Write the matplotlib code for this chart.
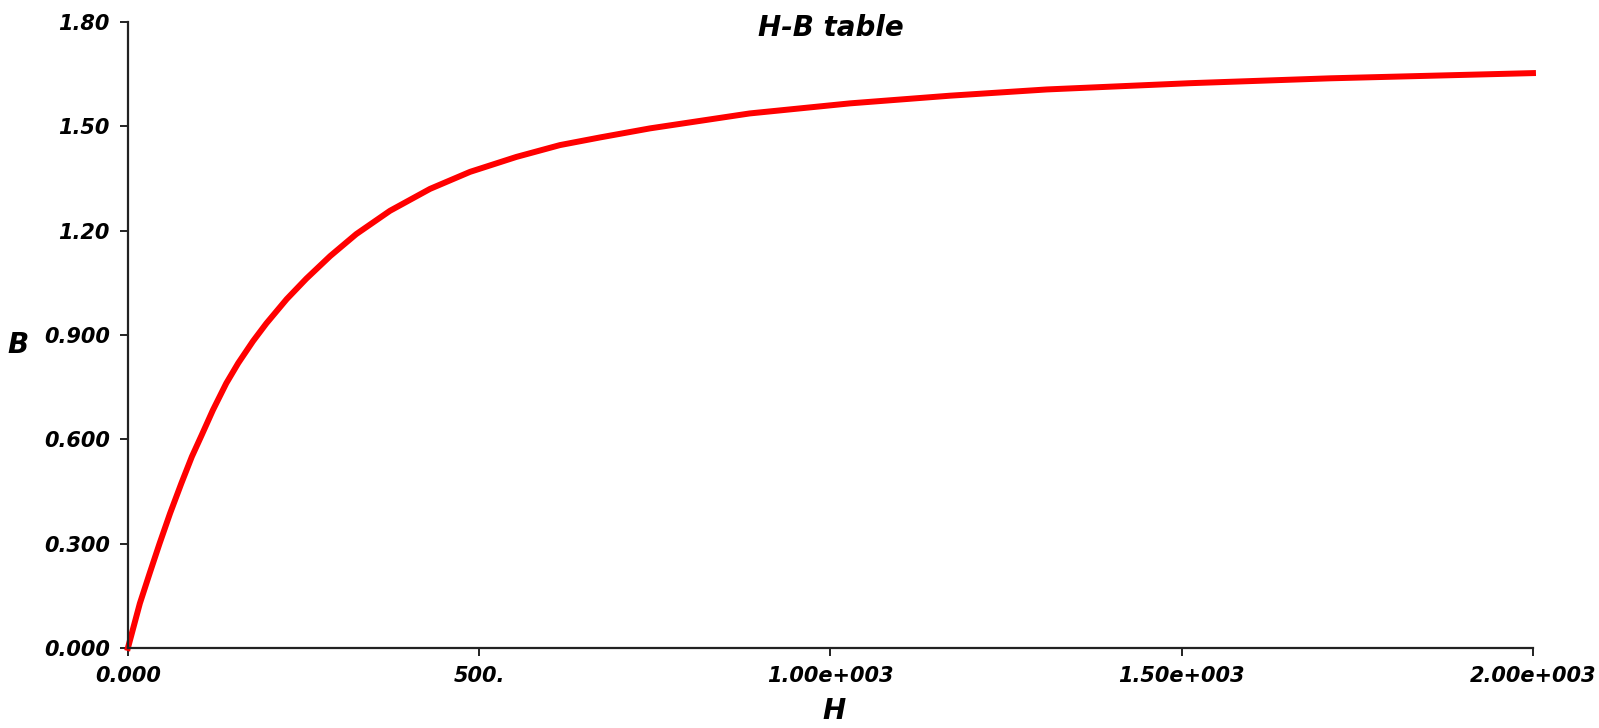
import matplotlib.pyplot as plt
import numpy as np

# H-B curve
H = [0, 17, 31, 45, 60, 76, 91, 105, 121, 140, 157, 178, 197, 226, 254,
     288, 325, 373, 430, 487, 553, 615, 672, 743, 885, 1028, 1170, 1308,
     1512, 1711, 2000]
B = [0.0, 0.128, 0.215, 0.30, 0.387, 0.473, 0.55, 0.612, 0.684, 0.761,
     0.819, 0.882, 0.933, 1.003, 1.062, 1.127, 1.19, 1.257, 1.320, 1.369,
     1.412, 1.446, 1.468, 1.494, 1.537, 1.566, 1.588, 1.606, 1.624, 1.638,
     1.653]

x_ticks = [0, 500, 1000, 1500, 2000]
x_labels = ['0.000', '500.', '1.00e+003', '1.50e+003', '2.00e+003']
y_ticks = [0.0, 0.3, 0.6, 0.9, 1.2, 1.5, 1.8]
y_labels = ['0.000', '0.300', '0.600', '0.900', '1.20', '1.50', '1.80']

plt.rcParams['font.family'] = 'DejaVu Sans'
font = dict(style='italic', weight='bold')

fig = plt.figure(figsize=(15.99, 7.28), dpi=100)
ax = fig.add_axes([0.080, 0.110, 0.8787, 0.8598])

ax.plot(H, B, color='#ff0000', linewidth=4.3, clip_on=False,
        solid_joinstyle='round')

ax.set_xlim(0, 2000)
ax.set_ylim(0, 1.8)
ax.set_xticks(x_ticks)
ax.set_xticklabels(x_labels, fontsize=15, **font)
ax.set_yticks(y_ticks)
ax.set_yticklabels(y_labels, fontsize=15, **font)

ax.spines['top'].set_visible(False)
ax.spines['right'].set_visible(False)
for s in ('left', 'bottom'):
    ax.spines[s].set_linewidth(1.6)
    ax.spines[s].set_color('#222222')
ax.tick_params(axis='both', color='#222222', width=1.4, length=6, pad=7)

# title sits inside the top of the plot area
fig.text(0.5195, 0.962, 'H-B table', fontsize=20, ha='center', va='center', **font)

ax.set_xlabel('H', fontsize=20, **font)
ax.xaxis.set_label_coords(0.5025, -0.10)
ax.xaxis.label.set_va('center')
ax.set_ylabel('B', fontsize=20, rotation=0, **font)
ax.yaxis.set_label_coords(-0.078, 0.484)
ax.yaxis.label.set_va('center')
ax.yaxis.label.set_ha('center')

plt.savefig('out.png', dpi=100)
